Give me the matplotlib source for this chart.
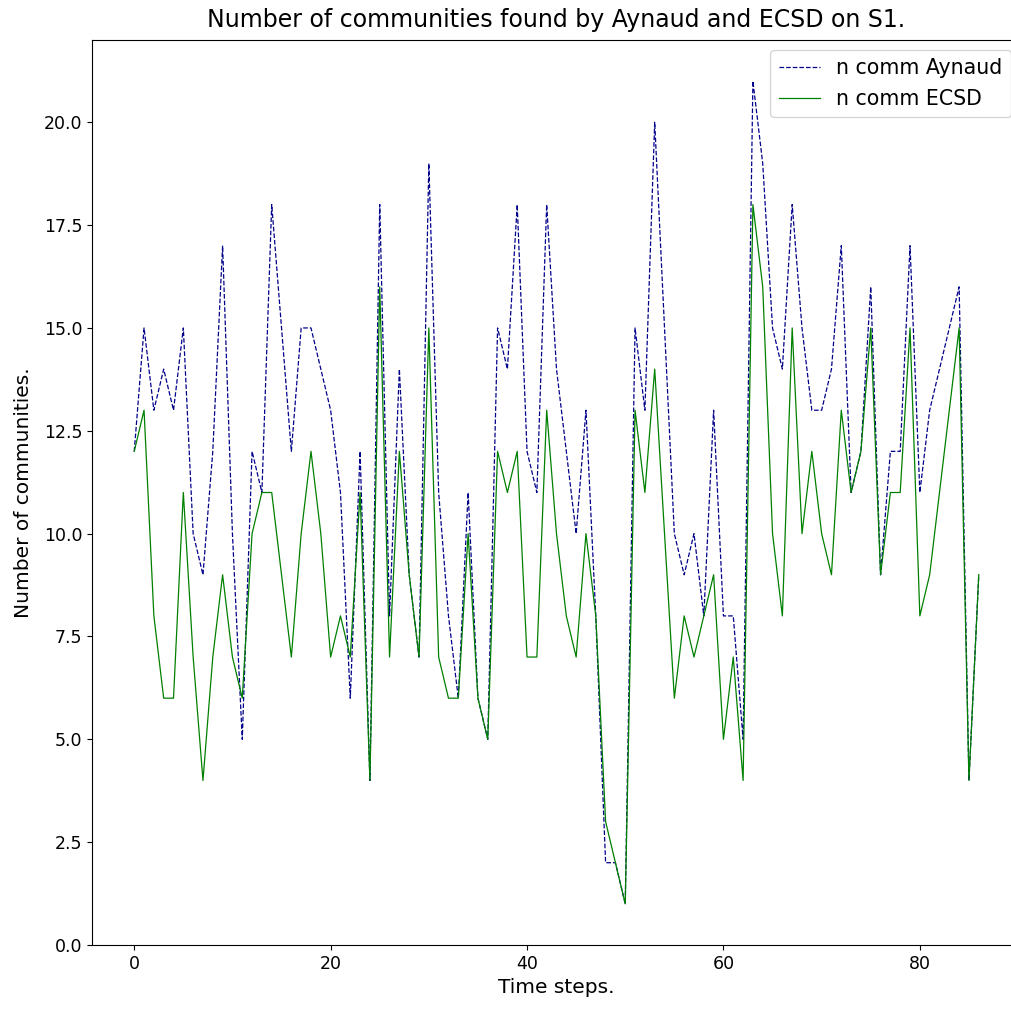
import matplotlib
matplotlib.use("Agg")
import matplotlib.pyplot as plt

# community counts per time step on S1
n_comm_aynaud = [12, 15, 13, 14, 13, 15, 10, 9, 12, 17,
                 10, 5, 12, 11, 18, 15, 12, 15, 15, 14,
                 13, 11, 6, 12, 4, 18, 8, 14, 9, 7,
                 19, 11, 8, 6, 11, 6, 5, 15, 14, 18,
                 12, 11, 18, 14, 12, 10, 13, 8, 2, 2,
                 1, 15, 13, 20, 15, 10, 9, 10, 8, 13,
                 8, 8, 5, 21, 19, 15, 14, 18, 15, 13,
                 13, 14, 17, 11, 12, 16, 9, 12, 12, 17,
                 11, 13, 14, 15, 16, 4, 9]
n_comm_ecsd = [12, 13, 8, 6, 6, 11, 7, 4, 7, 9,
               7, 6, 10, 11, 11, 9, 7, 10, 12, 10,
               7, 8, 7, 11, 4, 16, 7, 12, 9, 7,
               15, 7, 6, 6, 10, 6, 5, 12, 11, 12,
               7, 7, 13, 10, 8, 7, 10, 8, 3, 2,
               1, 13, 11, 14, 10, 6, 8, 7, 8, 9,
               5, 7, 4, 18, 16, 10, 8, 15, 10, 12,
               10, 9, 13, 11, 12, 15, 9, 11, 11, 15,
               8, 9, 11, 13, 15, 4, 9]
time_steps = list(range(len(n_comm_aynaud)))

fig = plt.figure(figsize=(10.12, 10.10), dpi=100)
ax = fig.add_axes([92 / 1012, 65 / 1010, 929 / 1012, 905 / 1010])

ax.plot(time_steps, n_comm_aynaud, color='darkblue', linestyle='--', linewidth=0.9, label='n comm Aynaud')
ax.plot(time_steps, n_comm_ecsd, color='green', linewidth=0.9, label='n comm ECSD')

ax.set_title('Number of communities found by Aynaud and ECSD on S1.', fontsize=17, pad=9)
ax.set_xlabel('Time steps.', fontsize=14.5)
ax.set_ylabel('Number of communities.', fontsize=14.5, labelpad=8)
ax.tick_params(labelsize=12.5)
ax.legend(loc='upper right', fontsize=14.8)

fig.savefig('out.png', dpi=100)
